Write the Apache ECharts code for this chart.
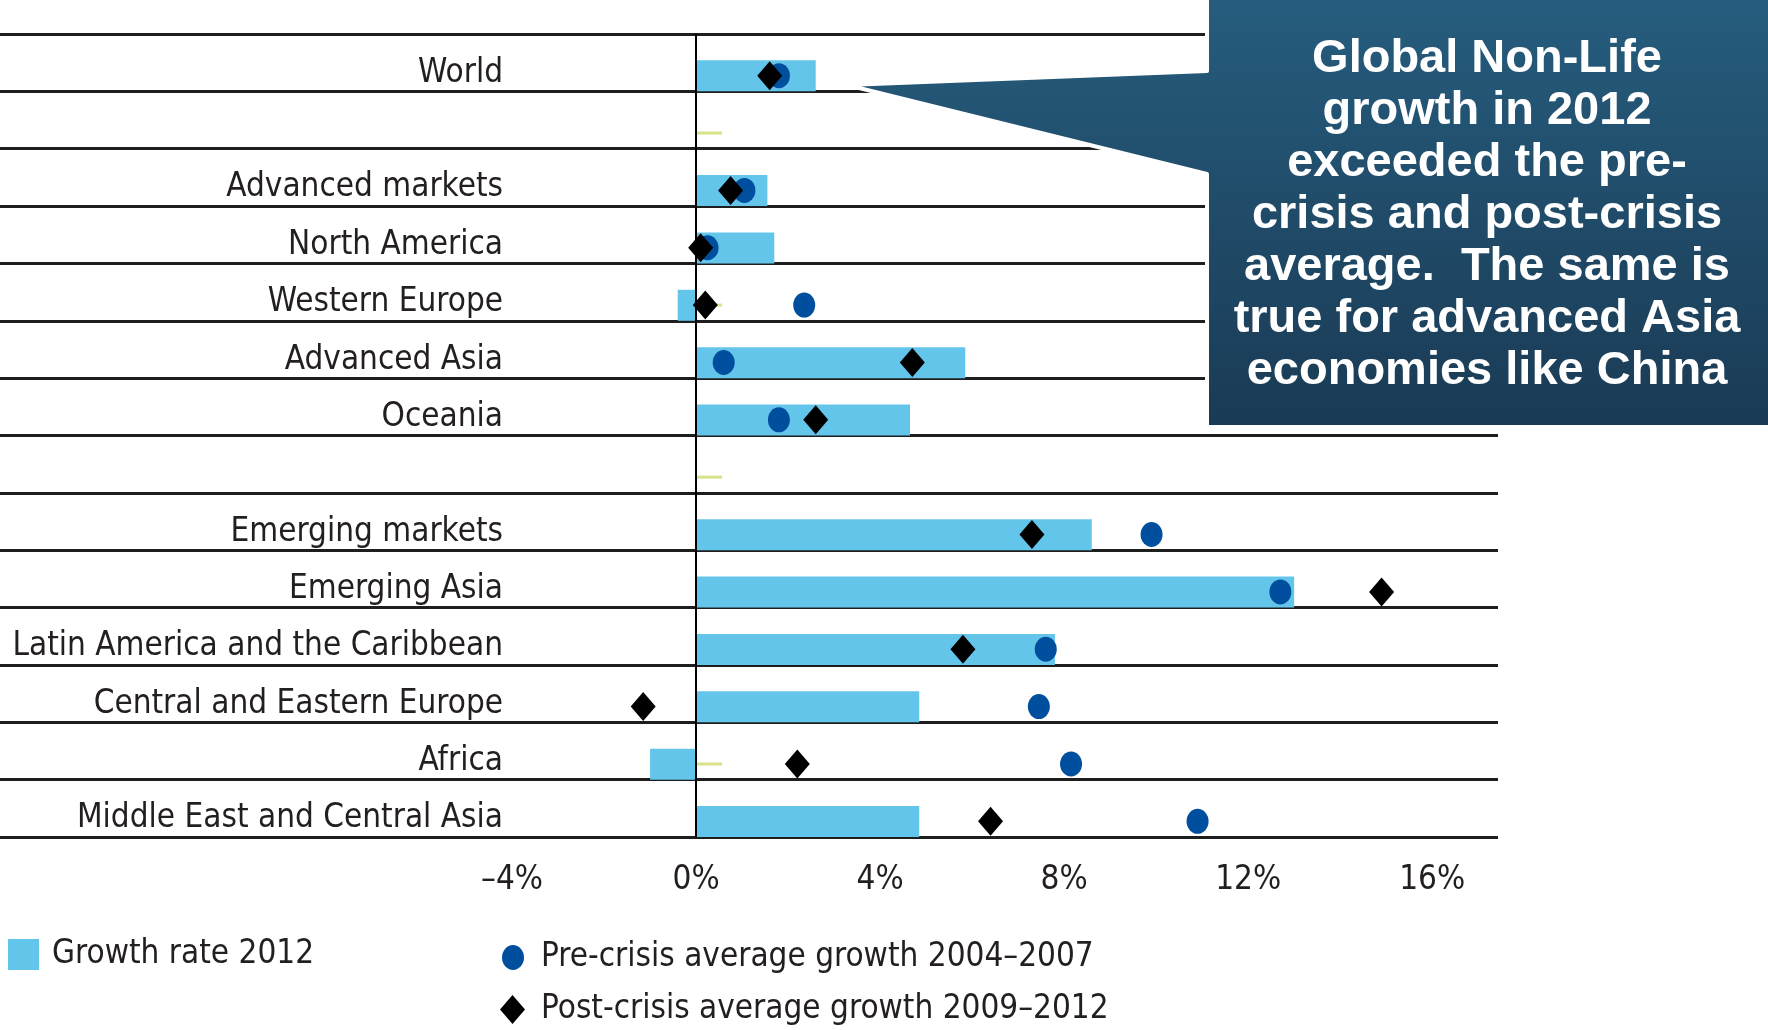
<!DOCTYPE html>
<html>
<head>
<meta charset="utf-8">
<title>Non-Life premium growth</title>
<script src="https://cdn.jsdelivr.net/npm/echarts@6/dist/echarts.min.js"></script>
<style>
html, body { margin: 0; padding: 0; background: #fff; }
#chart { width: 1768px; height: 1030px; }
</style>
</head>
<body>
<div id="chart"></div>
<script>
// rows from top to bottom, the two blank rows are spacers
var categories = ['World', '', 'Advanced markets', 'North America', 'Western Europe', 'Advanced Asia', 'Oceania', ' ',
	'Emerging markets', 'Emerging Asia', 'Latin America and the Caribbean', 'Central and Eastern Europe', 'Africa', 'Middle East and Central Asia'];
var growth2012 = [2.6, null, 1.55, 1.7, -0.4, 5.85, 4.65, null, 8.6, 13.0, 7.8, 4.85, -1.0, 4.85];
var preCrisis = [1.8, null, 1.05, 0.25, 2.35, 0.6, 1.8, null, 9.9, 12.7, 7.6, 7.45, 8.15, 10.9];
var postCrisis = [1.6, null, 0.75, 0.1, 0.2, 4.7, 2.6, null, 7.3, 14.9, 5.8, -1.15, 2.2, 6.4];
var tickValues = [-4, 0, 4, 8, 12, 16];
var seriesNames = ['Growth rate 2012', 'Pre-crisis average growth 2004\u20132007', 'Post-crisis average growth 2009\u20132012'];
var calloutLines = ['Global Non-Life', 'growth in 2012', 'exceeded the pre-', 'crisis and post-crisis',
	'average.  The same is', 'true for advanced Asia', 'economies like China'];

var labelFamily = "'Liberation Sans Narrow', 'DejaVu Sans Condensed', 'Liberation Sans', sans-serif";
var ellipse = 'path://M0,12.5A11,12.5,0,1,1,22,12.5A11,12.5,0,1,1,0,12.5Z';

// pick a size so the longest label keeps its width whatever face is found
function fitSize(text, width) {
	var ctx = document.createElement('canvas').getContext('2d');
	ctx.font = '100px ' + labelFamily;
	return Math.round(100 * width / ctx.measureText(text).width);
}
var labelSize = fitSize('Latin America and the Caribbean', 492);

function points(values) {
	var out = [];
	for (var i = 0; i < values.length; i++) {
		if (values[i] != null) out.push([values[i], i]);
	}
	return out;
}
var stubs = [];
for (var i = 0; i < categories.length; i++) stubs.push([0, i]);

var textColor = '#231f20';

var myChart = echarts.init(document.getElementById('chart'));
var option = {
	animation: false,
	grid: { left: 0, right: 270, top: 34, bottom: 193, outerBoundsMode: 'none', containLabel: false },
	xAxis: {
		type: 'value', min: -15.13, max: 17.43,
		axisLine: { show: false }, axisTick: { show: false }, splitLine: { show: false },
		axisLabel: {
			customValues: tickValues,
			margin: 23, fontSize: labelSize, lineHeight: 40, color: textColor, fontFamily: labelFamily,
			formatter: function (v) {
				return (v < 0 ? '\u2013' + (-v) : v) + '%';
			}
		}
	},
	yAxis: {
		type: 'category', inverse: true, data: categories, offset: -503,
		axisLine: { show: false }, axisTick: { show: false },
		axisLabel: { interval: 0, margin: 0, fontSize: labelSize, color: textColor, fontFamily: labelFamily,
			verticalAlign: 'top', lineHeight: 21 },
		splitLine: { show: true, lineStyle: { color: '#1e1e1e', width: 3 } }
	},
	legend: [
		{ left: 8, top: 938, padding: 0, itemWidth: 31, itemHeight: 31, selectedMode: false,
			data: [{ name: seriesNames[0], icon: 'rect' }],
			textStyle: { fontSize: labelSize, lineHeight: 31, color: textColor, fontFamily: labelFamily, padding: [0, 0, 0, 8] } },
		{ left: 502, top: 941, padding: 0, itemWidth: 22, itemHeight: 25, selectedMode: false,
			data: [{ name: seriesNames[1], icon: ellipse }],
			textStyle: { fontSize: labelSize, lineHeight: 25, color: textColor, fontFamily: labelFamily, padding: [0, 0, 0, 12] } },
		{ left: 500, top: 993, padding: 0, itemWidth: 25, itemHeight: 29, selectedMode: false,
			data: [{ name: seriesNames[2], icon: 'diamond' }],
			textStyle: { fontSize: labelSize, lineHeight: 29, color: textColor, fontFamily: labelFamily, padding: [0, 0, 0, 11] } }
	],
	graphic: [
		{
			type: 'polygon', z: 100,
			shape: { points: [[1207, -4], [1772, -4], [1772, 427], [1207, 427], [1207, 174], [847, 85], [1207, 71]] },
			style: {
				fill: new echarts.graphic.LinearGradient(0, 0, 0, 1, [
					{ offset: 0, color: '#265d7e' }, { offset: 1, color: '#1a3a54' }
				]),
				stroke: '#fff', lineWidth: 4, lineJoin: 'round'
			}
		},
		{
			type: 'text', z: 101, x: 1487, y: 215,
			style: {
				text: calloutLines.join('\n'), fill: '#fff', align: 'center', verticalAlign: 'middle',
				fontSize: 47, lineHeight: 52, fontWeight: 'bold', fontFamily: "'Liberation Sans', Arial, sans-serif"
			}
		}
	],
	series: [
		// spacer so the real bar sits in the lower part of each row
		{ type: 'bar', name: 'spacer', data: [], barWidth: 26.36, barGap: '0%', silent: true },
		{ type: 'bar', name: seriesNames[0], data: growth2012, barWidth: 31, barGap: '0%', z: 3,
			itemStyle: { color: '#64c5eb' },
			markLine: {
				silent: true, symbol: 'none', label: { show: false }, z: 6,
				lineStyle: { color: '#000', width: 2, type: 'solid' },
				data: [{ xAxis: 0 }]
			} },
		{ type: 'scatter', name: 'stub', data: stubs, symbol: 'rect', symbolSize: [26, 3], symbolOffset: [13, 13], z: 1,
			itemStyle: { color: '#dbe38a', opacity: 1 }, silent: true },
		{ type: 'scatter', name: seriesNames[1], data: points(preCrisis), symbol: ellipse, symbolSize: [22, 25],
			symbolOffset: [0, 13], z: 4, itemStyle: { color: '#004f9e', opacity: 1 } },
		{ type: 'scatter', name: seriesNames[2], data: points(postCrisis), symbol: 'diamond', symbolSize: [25, 29],
			symbolOffset: [0, 13], z: 5, itemStyle: { color: '#000', opacity: 1 } }
	]
};
myChart.setOption(option);
</script>
</body>
</html>
